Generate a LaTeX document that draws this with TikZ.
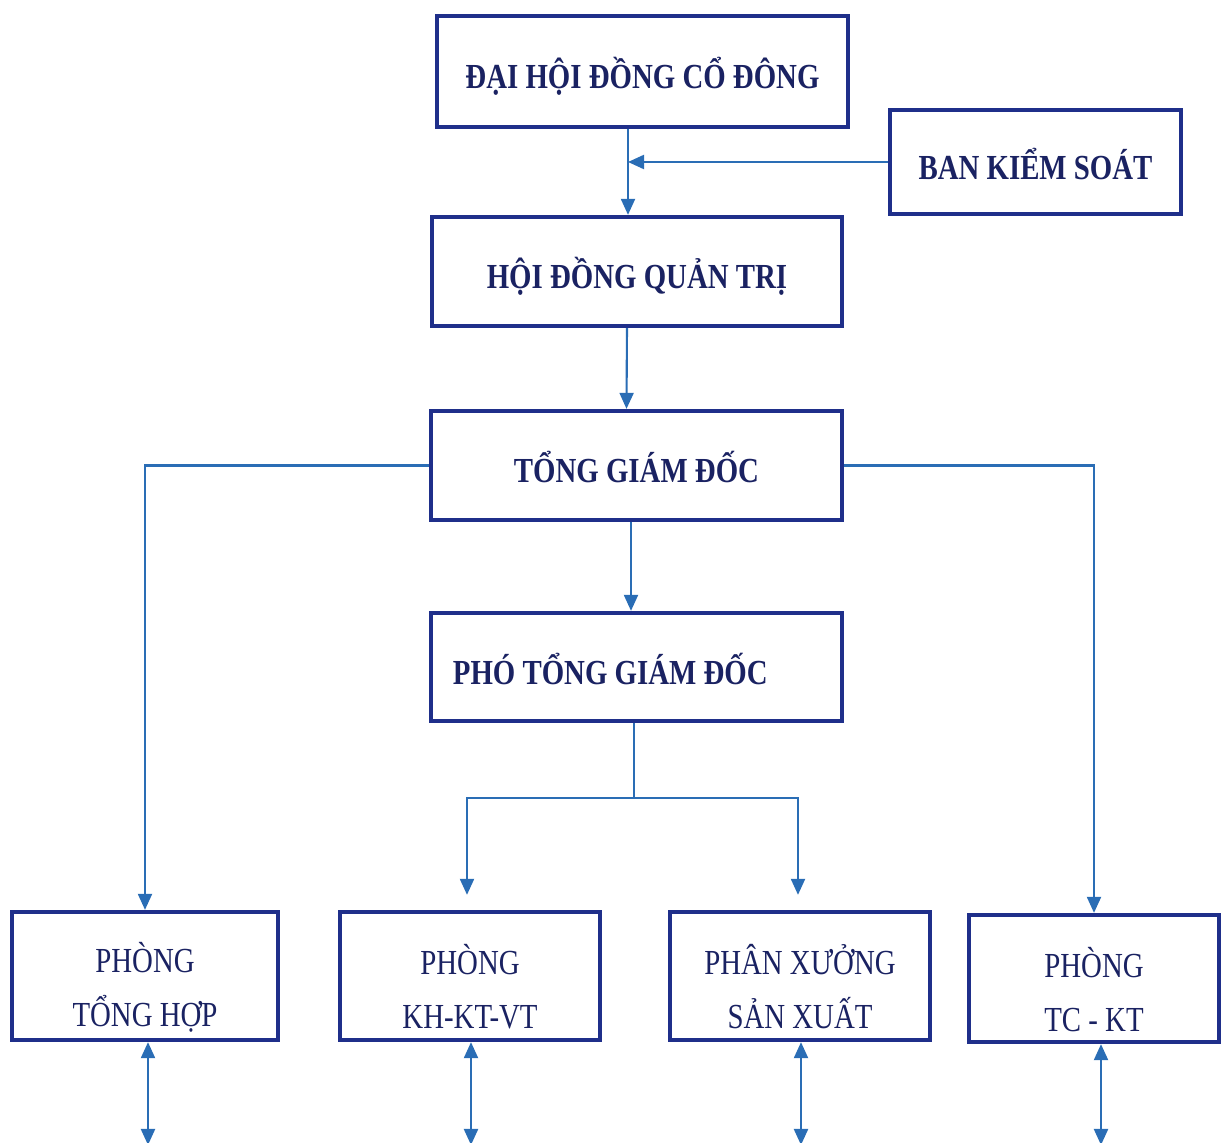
\documentclass[tikz,border=0pt]{standalone}
\usepackage{fontspec}
\setmainfont{Liberation Serif}[FakeStretch=0.82]
\usepackage{tikz}
\usetikzlibrary{arrows.meta}

\definecolor{boxblue}{HTML}{1F2F8A}
\definecolor{inkblue}{HTML}{1A2262}
\definecolor{linkblue}{HTML}{2A6DB5}

\newcommand{\lift}{\rule{0pt}{0.52cm}}

\tikzset{
  unit/.style={draw=boxblue,line width=1.2pt,text=inkblue,inner sep=0pt},
  head/.style={unit,text height=0.34cm,text depth=0cm,
    font=\fontsize{10}{12}\selectfont\bfseries},
  dept/.style={unit,align=center,minimum width=2.6cm,minimum height=1.28cm,
    font=\fontsize{10}{15.4}\selectfont},
  arr/.style={draw=linkblue,line width=0.6pt,-{Triangle[length=0.16cm,width=0.14cm]}},
  dbl/.style={draw=linkblue,line width=0.6pt,
    {Triangle[length=0.16cm,width=0.14cm]}-{Triangle[length=0.16cm,width=0.14cm]}}
}

\begin{document}
\begin{tikzpicture}[x=0.01cm,y=-0.01cm]
  \useasboundingbox (0,0) rectangle (1221,1143);

  % upper levels
  \node[head,minimum width=4.11cm,minimum height=1.11cm] (dhd) at (642.5,71.5) {ĐẠI HỘI ĐỒNG CỔ ĐÔNG};
  \node[head,minimum width=2.91cm,minimum height=1.04cm] (bks) at (1035.5,162) {BAN KIỂM SOÁT};
  \node[head,minimum width=4.10cm,minimum height=1.09cm] (hdqt) at (637,271.5) {HỘI ĐỒNG QUẢN TRỊ};
  \node[head,minimum width=4.11cm,minimum height=1.09cm] (tgd) at (636.5,465.5) {TỔNG GIÁM ĐỐC};
  \node[head,minimum height=1.08cm,inner xsep=0.22cm] (ptgd) at (636.5,667) {\makebox[3.67cm][l]{PHÓ TỔNG GIÁM ĐỐC}};

  % departments
  \node[dept,minimum width=2.66cm] (pth) at (145,976) {\lift PHÒNG\\TỔNG HỢP};
  \node[dept] (kh) at (470,976) {\lift PHÒNG\\KH-KT-VT};
  \node[dept] (pxsx) at (800,976) {\lift PHÂN XƯỞNG\\SẢN XUẤT};
  \node[dept,minimum width=2.50cm,minimum height=1.27cm] (tckt) at (1094,978.5) {\lift PHÒNG\\TC - KT};

  \coordinate (jn) at (628,162);
  \coordinate (sp) at (634,798);
  \coordinate (bot) at (0,1145);

  \draw[arr] (dhd.south -| jn) -- (hdqt.north -| jn);
  \draw[arr] (bks.west) -- (jn);
  \draw[arr] ([xshift=-0.1cm]hdqt.south) -- ([xshift=-0.1cm]tgd.north);
  \draw[arr] ([xshift=-0.055cm]tgd.south) -- ([xshift=-0.055cm]ptgd.north);
  \draw[arr] (tgd.west) -| (pth.north);
  \draw[arr] (tgd.east) -| (tckt.north);
  \draw[draw=linkblue,line width=0.6pt] (ptgd.south -| sp) -- (sp);
  \draw[arr] (sp) -| ([xshift=-0.03cm,yshift=0.15cm]kh.north);
  \draw[arr] (sp) -| ([xshift=-0.02cm,yshift=0.15cm]pxsx.north);

  \foreach \d/\dx in {pth/0.03,kh/0.01,pxsx/0.01,tckt/0.07}
    \draw[dbl] ([xshift=\dx cm]\d.south) -- ([xshift=\dx cm]\d.south |- bot);
\end{tikzpicture}
\end{document}
